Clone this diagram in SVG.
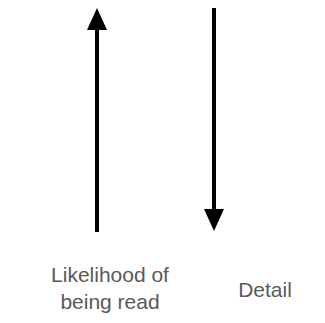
<svg xmlns="http://www.w3.org/2000/svg" width="325" height="323" viewBox="0 0 325 323">
<style>
.conn{stroke:#000;stroke-width:4;fill:none}
.lbl{font-family:"Liberation Sans",Arial,sans-serif;font-size:21px;fill:#5a5a5a;text-anchor:middle}
</style>
<defs>
<marker id="ah" markerWidth="5.5" markerHeight="5" refX="0" refY="2.5" orient="auto" markerUnits="strokeWidth">
<path d="M0,0 L5.5,2.5 L0,5 Z" fill="#000"/>
</marker>
</defs>
<rect width="325" height="323" fill="#fff"/>
<g id="connectors">
<line class="conn" x1="97" y1="232" x2="97" y2="30" marker-end="url(#ah)"/>
<line class="conn" x1="214" y1="8" x2="214" y2="209" marker-end="url(#ah)"/>
</g>
<g id="likelihood">
<text class="lbl" x="110" y="282">Likelihood of</text>
<text class="lbl" x="110" y="309">being read</text>
</g>
<g id="detail">
<text class="lbl" x="265" y="297">Detail</text>
</g>
</svg>
